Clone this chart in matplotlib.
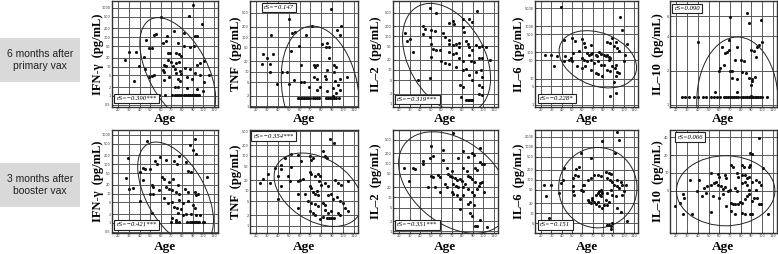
import numpy as np
import matplotlib.pyplot as plt
from matplotlib.patches import Ellipse, Rectangle
from matplotlib.ticker import FixedLocator, FixedFormatter, NullLocator

# ---------------- data (age, pg/mL) ----------------
# 6 months after primary vax
ifn1_age = [90.7, 60.2, 86.6, 98.8, 72.4, 81.7, 92.7, 94, 53.8, 55.4, 65.7, 45.7, 65, 61.8, 76.3,
            81.7, 87.5, 91.4, 48.9, 52.2, 29.6, 36.7, 26.4, 44.1, 66.6, 68.9, 74.7, 77.2, 79.5,
            66.6, 69.8, 74, 77.2, 63.4, 65, 71.4, 73, 82.7, 87.5, 94, 97.2, 100.4, 39.3, 45,
            61.8, 63.4, 77.9, 74.7, 79.5, 92.3, 97.2, 48.9, 52.2, 53.8, 68.2, 76.3, 77.9, 84.3,
            89.1, 101, 105.2, 34.5, 63.4, 73, 76.3, 84.3, 94, 99.7,
            58, 64, 71, 73, 75, 77, 79, 82, 84, 86, 87, 88, 89, 90, 91, 92, 93, 94, 95, 96]
ifn1_val = [1250, 475, 540, 285, 162, 139, 113, 113, 116, 126, 108, 79, 75, 65, 61,
            50, 48, 50, 44, 44, 32, 32, 17, 21, 28.5, 29.5, 29.5, 27, 22,
            17, 13.9, 13.3, 13.9, 11.6, 10.2, 10.2, 8.3, 9, 8.3, 11.6, 13.3, 15, 10.2, 8.3,
            7.9, 6.5, 7, 6.1, 5.4, 6.1, 5, 4.5, 4.75, 5, 4.5, 3.9, 3.2, 4.5,
            3.7, 3, 5, 3.2, 3.4, 1.94, 1.94, 1.8, 1.75, 1.5,
            1.1, 1.1, 1.1, 1.1, 1.1, 1.1, 1.1, 1.1, 1.1, 1.1, 1.1, 1.1, 1.1, 1.1, 1.1, 1.1, 1.1, 1.1, 1.1, 1.1]

tnf1_age = [88.9, 50.1, 71.8, 98.6, 94.4, 33.9, 53.3, 55.6, 66.3, 97, 85, 84.7, 87.3, 80.8, 51.7,
            59.8, 25.8, 34.9, 29.7, 25.2, 32.9, 43.6, 47.8, 32.3, 60.8, 72.8, 74.4, 76, 87.3,
            91.5, 93.8, 85.7, 92.2, 103.5, 55, 64, 73.7, 76, 83.4, 84.7, 93.1, 97, 95.7, 39.4,
            50.1, 61.4, 68.5, 76, 79.2, 90.6, 97, 85.7, 93.8, 90.6,
            58, 60, 62, 64, 66, 68, 70, 72, 74, 76, 78, 84, 86, 88, 90, 92, 94, 96]
tnf1_val = [645, 334, 215, 202, 162, 117, 130, 139, 112, 112, 67, 52, 52, 64, 40,
            54, 33, 32, 24, 17, 10, 10, 10, 17, 15.5, 15.5, 13.9, 15.5, 24,
            15.5, 13.9, 11.2, 10, 6.9, 5.8, 4.9, 6.9, 6, 7.5, 6.3, 5.5, 6, 4.2, 4.4,
            4.4, 4.9, 3.6, 3, 3.6, 3.3, 3, 2.7, 2.4, 1.93,
            1.73, 1.73, 1.73, 1.73, 1.73, 1.73, 1.73, 1.73, 1.73, 1.73, 1.73, 1.73, 1.73, 1.73,
            1.73, 1.73, 1.73, 1.73]

il2_1_age = [49.1, 55.3, 94.4, 86.6, 89.1, 25.6, 30.3, 33.4, 27.2, 42.8, 44.4, 50.6, 53.8, 42.8,
             70.9, 72.5, 67.8, 80.3, 80.3, 81.9, 61.6, 63.1, 67.2, 67.8, 70.9, 74.1, 76.6, 77.2,
             83.4, 85, 86.6, 89.1, 92.8, 95.9, 99.1, 102.8, 106, 52.2, 55.3, 58.4, 50.6, 67.8,
             71.6, 74.1, 77.2, 80.3, 86.6, 88.1, 91.3, 95.9, 99.1, 60, 63.1, 67.8, 74.1, 80.3,
             83.4, 92.8, 97.5, 99.1, 86.6, 89.7, 49.1, 38.1, 77.8, 80.3, 95.9, 99.1, 95.9, 99.1,
             83.4, 85, 86.6, 88.1, 89.7, 78.8, 49.1, 50.6]
il2_1_val = [670, 500, 560, 319, 255, 124, 83, 34, 74, 204, 163, 152, 146, 116,
             285, 228, 238, 319, 182, 130, 122, 93, 78, 59, 53, 59, 62, 47,
             74, 59, 47, 40, 53, 47, 50, 47, 20, 42, 38, 38, 24, 34,
             30, 32, 22, 19, 27, 19, 17, 22, 23, 18.5, 16, 14.7, 12.3, 9.8,
             11, 8.8, 9.8, 6.3, 7, 5, 5.6, 5.2, 3.6, 3.1, 3.6, 3.1, 2, 1.8,
             1.3, 1.3, 1.3, 1.3, 1.3, 1.6, 93, 59]

il6_1_age = [38.8, 97, 98.6, 103.5, 42, 50.1, 52.4, 59.8, 61.4, 67.9, 63, 84.1, 87.3, 90.6, 93.1,
             88.9, 93.8, 95.4, 56.6, 51.1, 43.6, 23.6, 29.1, 35.5, 32.3, 42, 46.9, 48.5, 50.1,
             64.7, 66.3, 67.9, 69.5, 72.8, 74.4, 76, 77.6, 80.8, 82.5, 84.1, 85.7, 87.3, 85.7,
             59.8, 61.4, 64.7, 67.9, 71.1, 75, 77.6, 55, 59.8, 63, 67.9, 72.8, 75, 80.8, 84.1,
             87.3, 88.9, 91.2, 93.1, 93.8, 95.4, 92.5, 100.3, 100.9, 90.6, 87.3, 92.2, 79.2]
il6_1_val = [5600, 2240, 750, 211, 300, 345, 282, 316, 224, 194, 168, 259, 224, 178, 259,
             345, 145, 109, 109, 94, 75, 77, 82, 75, 30, 46, 53, 61, 46,
             94, 82, 89, 94, 82, 75, 100, 89, 82, 71, 82, 67, 61, 53,
             61, 53, 46, 53, 40, 46, 34.5, 30, 26, 30, 22, 17, 14.5, 34.5, 22,
             19.4, 30, 26, 34.5, 17.8, 15.8, 12.6, 46, 82, 7.1, 2.2, 2.8, 12.6]

il10_1_age = [70.5, 85.6, 88.1, 98.9, 40.5, 68.9, 100.4, 97.3, 95.7, 62.6, 67.3, 65.7, 68.9, 76.8,
              89.4, 92.6, 94.1, 75.2, 79.9, 83.1, 61, 64.2, 59.4, 69.8, 72, 81.5, 84.7, 72, 76.8,
              87.8, 91, 93.2, 89.4, 91, 55.6, 76.2, 90,
              25, 28, 32, 36, 40, 45, 48, 52, 55, 58, 61, 64, 66, 68, 70, 72, 74, 76, 78, 80,
              82, 84, 86, 88, 89, 90, 91, 92, 93, 94, 95, 96, 98, 100, 105]
il10_1_val = [5.9, 6.4, 5.3, 5.6, 3.58, 3.7, 3.58, 3.35, 3.2, 3.24, 2.93, 2.84, 3.03, 3.24,
              3.03, 3.0, 2.66, 2.49, 2.49, 2.41, 2.11, 2.25, 1.97, 1.97, 2.0, 1.93, 1.91, 1.73, 1.7,
              1.73, 1.7, 1.76, 1.49, 1.62, 1.3, 1.3, 1.2,
              1.16, 1.16, 1.16, 1.16, 1.16, 1.16, 1.16, 1.16, 1.16, 1.16, 1.16, 1.16, 1.16, 1.16,
              1.16, 1.16, 1.16, 1.16, 1.16, 1.16, 1.16, 1.16, 1.16, 1.16, 1.16, 1.16, 1.16, 1.16,
              1.16, 1.16, 1.16, 1.16, 1.16, 1.16, 1.16]

# 3 months after booster vax
ifn2_age = [92.1, 46.6, 87.2, 90.5, 93.7, 28.8, 59.6, 77.5, 43.4, 45, 54.7, 64.5, 56.4, 72.6, 75.2,
            84, 40.1, 49.9, 61.2, 62.9, 67.7, 71.9, 85.6, 88.2, 103.4, 27.1, 30.4, 33.6, 43.4,
            51.5, 53.1, 64.5, 67.7, 71, 74.2, 77.5, 75.8, 83, 85.6, 92.1, 93.7, 95.3, 49.9, 52.5,
            58, 62.9, 40.1, 66.8, 71, 77.5, 80.7, 85.6, 90.5, 72.6, 75.2, 79.1, 92.1, 51.5, 75.8,
            80.7, 84, 88.8, 93.7, 97, 71, 74.2,
            70, 74, 77, 85, 88, 89, 90, 91, 92, 93, 94, 95, 96, 100, 101]
ifn2_val = [735, 600, 441, 316, 227, 167, 180, 190, 77, 68, 129, 136, 105, 129, 105,
            123, 53, 68, 36, 32, 24.5, 32, 60, 53, 36, 33, 14.7, 15.8, 29,
            19, 16.7, 16.7, 14.7, 12.9, 11.4, 10, 19, 14.7, 11.4, 11.4, 8.8, 9.5, 10, 9.5,
            12.9, 6.8, 5.5, 4.9, 5.3, 6, 4.6, 5.7, 4.1, 3.6, 3.2, 2.9, 3.2, 2.15, 2.15,
            1.9, 2.05, 2.05, 1.9, 1.9, 1.47, 1.23,
            1.08, 1.08, 1.08, 1.08, 1.08, 1.08, 1.08, 1.08, 1.08, 1.08, 1.08, 1.08, 1.08, 1.08, 1.08]

tnf2_age = [87.9, 91.9, 81.7, 83.9, 85.7, 52.4, 58.6, 69.4, 72.5, 70.9, 46.2, 61, 37, 43.1, 43.1,
            52.4, 30.8, 23.1, 26.2, 32.3, 40.1, 49.3, 50.9, 58.6, 60.1, 63.2, 69.4, 70.9, 74,
            77.1, 78.6, 78, 80.2, 83.3, 86.4, 92.5, 95.6, 98.7, 104.9, 43.1, 69.4, 70.9, 72.5,
            74, 75.6, 77.1, 58.6, 64.8, 86.4, 89.4, 91, 94.1, 97.2, 100.2, 67.8, 70.9, 74, 77.1,
            81.7, 83.3, 101.8, 104.9, 40.1, 58.6, 69.4, 72.5, 74, 83.3, 86.4, 89.4, 95.6, 97.2,
            78.6, 81.7, 85.6, 87, 88.6, 90, 91.5]
tnf2_val = [295, 233, 133, 98, 87, 110, 105, 98, 87, 77, 87, 69, 45, 54, 43,
            48, 30, 16.8, 22, 16.8, 27, 27, 18.9, 18.9, 21, 22, 34, 30, 27,
            30, 27, 18.9, 14.9, 16.8, 13.3, 21, 16.8, 14.9, 18.9, 13.3, 13.3, 11.8, 9.3,
            8.3, 10, 7.4, 8.3, 7.9, 7.4, 7.9, 5.8, 6.5, 5.2, 4.6, 5.2, 4.6, 4.1, 3.6,
            4.6, 3.9, 3.2, 2.6, 5.8, 3.2, 2.6, 2.3, 2.0, 2.9, 2.3, 2.6, 2.3, 2.0,
            1.6, 1.8, 1.68, 1.68, 1.68, 1.68, 1.68]

il2_2_age = [71.4, 50.5, 61.2, 97.2, 89.1, 91.4, 81.1, 52.2, 48.9, 61.8, 76.3, 85.9, 42.5, 42.5,
             97.2, 98.8, 100.4, 24.8, 32.9, 34.5, 65, 69.8, 81.1, 84.3, 92.3, 94, 50.5, 52.2, 57,
             58.6, 66.6, 68.2, 69.8, 73.1, 75.3, 77.9, 79.5, 85, 87.5, 89.1, 92.3, 97.2, 98.8, 29,
             47.3, 53.8, 63.4, 65, 71.4, 74, 76.3, 81.1, 82.7, 85, 94, 95.6, 69.8, 71.4, 75.3,
             58.6, 77.9, 81.1, 89.1, 90.7, 100.4, 85.9, 87.5, 90.7, 77.9, 87.5, 89.1, 97.2, 92.3,
             94, 103.6]
il2_2_val = [767, 316, 253, 283, 203, 182, 227, 163, 146, 122, 139, 152, 117, 94,
             112, 98, 94, 72, 75, 67, 75, 60, 75, 60, 75, 63, 43, 39, 46,
             39, 50, 43, 39, 37, 32, 35, 31, 43, 39, 35, 28, 26, 28, 31,
             20, 20, 25, 20, 25, 22, 20, 20, 25, 17.8, 17.8, 22, 14.3, 12.8, 11.4,
             14.3, 9.2, 11.4, 14.3, 11.4, 14.3, 6.6, 7.3, 5.9, 4.7, 3.4, 2.8, 2.2, 1.4,
             1.4, 1.33]

il6_2_age = [93.3, 95.6, 79.5, 91.4, 68.2, 58.6, 42.5, 53.8, 57, 23.2, 29.6, 24.8, 28, 37.7, 39.3,
             40.9, 50.5, 52.8, 55.4, 50.5, 60.2, 61.8, 65, 68.2, 71.4, 75.3, 77.9, 82.7, 85.9,
             87.5, 84.3, 86.9, 89.1, 94, 97.2, 98.8, 102, 90.7, 94, 95.6, 87.5, 89.1, 92.3, 100.4,
             98.8, 84.3, 82.7, 50.5, 52.2, 58.6, 60.2, 65, 66.6, 68.2, 69.8, 71.4, 73.1, 75.3,
             73.1, 74.7, 76.3, 77.2, 77.9, 78.5, 79.2, 77.9, 76.3, 79.5, 81.1, 84.3, 86.2, 94,
             97.2, 103.6, 85.9, 87.5, 89.1, 87.5, 84.3, 69.8]
il6_2_val = [2820, 1585, 1480, 631, 447, 631, 224, 214, 251, 71, 68, 32, 7.1, 40, 79,
             100, 112, 141, 126, 63, 71, 71, 100, 112, 141, 141, 126, 178, 158,
             148, 112, 100, 89, 100, 89, 71, 71, 71, 63, 56, 50, 35, 32, 45,
             35, 40, 25, 45, 35, 50, 45, 25, 22, 20, 25, 21, 18.6, 22,
             35, 40, 45, 35, 32, 45, 40, 50, 16, 14, 18, 18, 22, 14,
             11, 5.6, 4.5, 4, 5, 3.2, 4.5, 28]

il10_2_age = [97.2, 89.1, 90.7, 81.1, 82.7, 71.4, 73.1, 89.1, 87.5, 101, 52.2, 58.6, 60.2, 65, 66.6,
              76.3, 77.9, 81.1, 84.3, 85.9, 88.2, 32.9, 40.9, 48.9, 52.2, 55.4, 57, 58.6, 61.8,
              63.4, 65, 68.2, 69.8, 74.7, 76.3, 81.1, 84.3, 85.9, 90.7, 94, 97.2, 98.8, 39.3, 45.7,
              26.4, 27.1, 44.1, 47.3, 53.8, 60.2, 63.4, 71.4, 73.1, 74.7, 77.9, 79.5, 81.1, 84.3,
              85.9, 88.2, 90.7, 92.3, 95.6, 97.2, 98.8, 18.4, 23.2, 26.4, 34.5, 52.2, 71.4, 74.7,
              81.1, 84.3, 89.1, 90.7, 105.2, 66.6, 87.5, 94]
il10_2_val = [39, 21.6, 20.8, 13.4, 12.5, 13.4, 12.5, 13.7, 12.5, 12.1, 9.75, 9.4, 8.6, 9.2, 8.1,
              9.75, 8.6, 9.2, 9.2, 8.1, 8.6, 7.6, 7.6, 5.9, 6.1, 6.7, 7.1, 6.3, 5.9,
              5.4, 5.7, 4.9, 5.2, 5.5, 4.9, 6.7, 7.1, 6.3, 7.1, 7.6, 7.1, 6.3, 4.9, 5.5,
              4.3, 3.8, 4.05, 4.6, 4.05, 3.8, 4.3, 3.1, 2.95, 3.0, 2.95, 3.25, 3.1, 3.55,
              4.05, 4.3, 3.35, 3.7, 3.8, 2.95, 2.95, 2.77, 3.1, 2.02, 2.02, 2.15, 2.29, 2.02,
              2.07, 2.02, 2.02, 2.02, 2.02, 2.77, 5.2, 5.2]

row_labels = ["6 months after\nprimary vax", "3 months after\nbooster vax"]
ylabels = ["IFN-\u03b3  (pg/mL)", "TNF  (pg/mL)", "IL\u20132  (pg/mL)", "IL\u20136  (pg/mL)",
           "IL\u201310  (pg/mL)"]
rs_text = [["rS=\u22120.390***", "rS=\u22120.147", "rS=\u22120.319***", "rS=\u22120.228*", "rS=0.090"],
           ["rS=\u22120.421***", "rS=\u22120.354***", "rS=\u22120.351***", "rS=\u22120.151", "rS=0.066"]]

age_ticks = [20, 30, 40, 50, 60, 70, 80, 90, 100, 110]
yticks = [[[0.5, 1, 2, 5, 10, 20, 50, 100, 200, 500, 1000], [1, 2, 5, 10, 20, 50, 100, 200, 500],
           [1, 2, 5, 10, 20, 50, 100, 200, 500], [1, 5, 10, 50, 100, 500, 1000, 5000], [1, 2, 4, 6]],
          [[0.5, 1, 2, 5, 10, 20, 50, 100, 200, 500, 1000], [1, 2, 5, 10, 20, 50, 100, 200, 500],
           [1, 2, 5, 10, 20, 50, 100, 200, 500], [5, 10, 20, 50, 100, 200, 500, 1000, 2000],
           [5, 10, 20, 40]]]
ylims = [[(0.42, 1700), (0.95, 1100), (0.8, 1100), (0.81, 9400), (0.955, 8.2)],
         [(0.45, 1470), (0.625, 543), (0.9, 955), (2.51, 3160), (0.95, 53.4)]]

data = [[(ifn1_age, ifn1_val), (tnf1_age, tnf1_val), (il2_1_age, il2_1_val),
         (il6_1_age, il6_1_val), (il10_1_age, il10_1_val)],
        [(ifn2_age, ifn2_val), (tnf2_age, tnf2_val), (il2_2_age, il2_2_val),
         (il6_2_age, il6_2_val), (il10_2_age, il10_2_val)]]

# ---------------- layout (pixels in a 778x254 figure) ----------------
W, H = 778, 254
cols = [(112, 218), (250, 358), (393, 498), (535, 638), (670, 777)]
rows = [(1, 107), (130, 233)]
ylab_x = [-0.13, -0.125, -0.165, -0.155, -0.115]
xlab_y = [-0.11, -0.14]
# confidence ellipses in axes fraction: centre x, centre y, width, height, angle
ellipses = [[(0.62, 0.34, 1.10, 0.56, 118), (0.65, 0.15, 0.70, 1.24, 10), (0.51, 0.46, 1.12, 0.72, 120),
             (0.61, 0.45, 0.78, 0.50, -20), (0.63, 0.05, 0.76, 1.22, 0)],
            [(0.60, 0.38, 1.10, 0.56, 118), (0.63, 0.42, 0.90, 0.60, -35), (0.58, 0.49, 1.20, 0.80, -40),
             (0.61, 0.44, 0.76, 0.78, 0), (0.52, 0.41, 0.92, 0.68, 0)]]
rs_pos = [[(0.04, 0.08), (0.13, 0.94), (0.04, 0.07), (0.05, 0.08), (0.04, 0.93)],
          [(0.04, 0.08), (0.03, 0.94), (0.04, 0.08), (0.05, 0.08), (0.07, 0.93)]]

fig = plt.figure(figsize=(W / 100, H / 100), dpi=100)
serif = "Liberation Serif"

for r in range(2):
    top, bot = rows[r]
    for c in range(5):
        x0, x1 = cols[c]
        ax = fig.add_axes([x0 / W, 1 - bot / H, (x1 - x0) / W, (bot - top) / H])
        ages, vals = data[r][c]
        ax.scatter(ages, vals, s=5, color="#111111", linewidths=0, zorder=3)
        ax.set_yscale("log")
        ax.set_xlim(14, 114)
        ax.set_ylim(*ylims[r][c])
        ax.xaxis.set_major_locator(FixedLocator(age_ticks))
        ax.xaxis.set_major_formatter(FixedFormatter([str(a) for a in age_ticks]))
        yt = yticks[r][c]
        ax.yaxis.set_major_locator(FixedLocator(yt))
        ax.yaxis.set_major_formatter(FixedFormatter([("%g" % v) for v in yt]))
        ax.yaxis.set_minor_locator(NullLocator())
        ax.tick_params(labelsize=2.5, length=1.5, width=0.5, pad=1, direction="in",
                       colors="#333333")
        ax.grid(True, color="#5a5a5a", linewidth=0.7)
        for sp in ax.spines.values():
            sp.set_linewidth(1.0)
            sp.set_color("#333333")

        cx, cy, ew, eh, ang = ellipses[r][c]
        ax.add_patch(Ellipse((cx, cy), ew, eh, angle=ang, transform=ax.transAxes,
                             fill=False, ec="#222222", lw=0.7, zorder=4))

        tx, ty = rs_pos[r][c]
        ax.text(tx, ty, rs_text[r][c], transform=ax.transAxes, fontsize=4.8, family=serif,
                style="italic", va="center", ha="left", zorder=6,
                bbox=dict(boxstyle="square,pad=0.35", fc="white", ec="#222222", lw=0.8))

        ax.set_ylabel(ylabels[c], family=serif, fontweight="bold", fontsize=9)
        ax.yaxis.label.set_va("center")
        ax.yaxis.set_label_coords(ylab_x[c], 0.5)
        ax.set_xlabel("Age", family=serif, fontweight="bold", fontsize=9.5)
        ax.xaxis.label.set_va("center")
        ax.xaxis.set_label_coords(0.5, xlab_y[r])

# row labels in grey boxes
box_rows = [(38, 82), (163, 207)]
for (y0, y1), lab in zip(box_rows, row_labels):
    fig.add_artist(Rectangle((0, 1 - y1 / H), 80 / W, (y1 - y0) / H, transform=fig.transFigure,
                             fc="#d9d9d9", ec="none"))
    fig.text(40 / W, 1 - (y0 + y1) / 2 / H, lab, ha="center", va="center", fontsize=7.5,
             family="Liberation Sans", color="#222222", linespacing=1.25)

fig.savefig("out.png", dpi=100)
